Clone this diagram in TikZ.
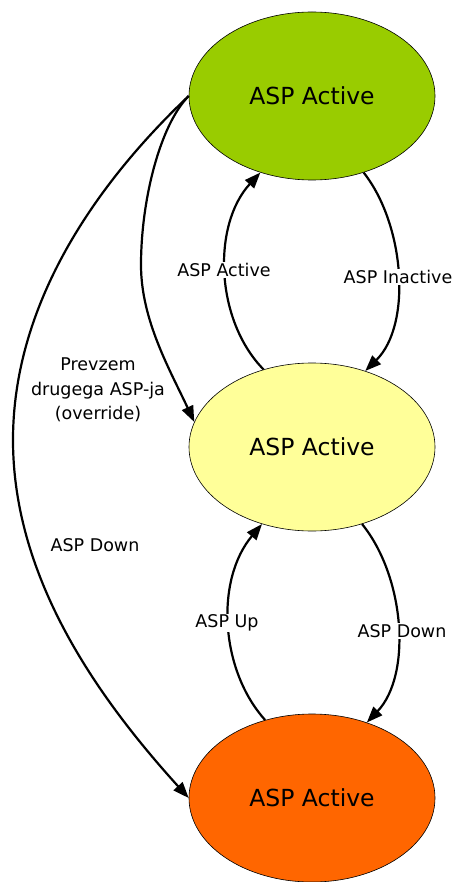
\documentclass[tikz,border=0pt]{standalone}
\usepackage{fontspec}
\setmainfont{DejaVu Sans}
\usetikzlibrary{arrows.meta,shapes.geometric}
\definecolor{aspgreen}{HTML}{99CC00}
\definecolor{aspyellow}{HTML}{FFFF99}
\definecolor{asporange}{HTML}{FF6600}
\begin{document}
\begin{tikzpicture}[x=1pt,y=-1pt,
  state/.style={ellipse, draw=black, line width=0.6pt, minimum width=246pt,
    minimum height=168pt, inner sep=0pt, font=\fontsize{23.5}{28}\selectfont},
  trans/.style={line width=2.2pt, -{Triangle[length=16pt,width=12pt]}},
  lbl/.style={fill=white, inner sep=1pt, align=center,
    font=\fontsize{17.5}{24.5}\selectfont},
  freelbl/.style={lbl, fill=none}]
\useasboundingbox (0,0) rectangle (455,882);

% states
\node[state, fill=aspgreen]  (top) at (312,96)  {ASP Active};
\node[state, fill=aspyellow] (mid) at (312,447) {ASP Active};
\node[state, fill=asporange] (bot) at (312,798) {ASP Active};

% transitions between neighbouring states
\draw[trans] (top.-56) .. controls (405,225) and (412,325) .. (mid.55);
\draw[trans] (mid.122) .. controls (215,320) and (212,225) .. (top.-124);
\draw[trans] (mid.-57) .. controls (405,577) and (412,675) .. (bot.54);
\draw[trans] (bot.121) .. controls (220,670) and (215,580) .. (mid.-123);

% long transitions on the left
\draw[trans] (top.west) .. controls (160,125) and (141,200) .. (141,265)
  .. controls (141,320) and (170,370) .. (mid.168);
\draw[trans] (top.west) .. controls (100,180) and (13,300) .. (13,440)
  .. controls (13,580) and (100,700) .. (bot.west);

% transition labels
\node[lbl] (lInactive) at (398,277) {ASP Inactive};
\node[lbl] (lActive)   at (224,270) {ASP Active};
\node[lbl] (lUp)       at (227,623) {ASP Up};
\node[lbl] (lDownR)    at (402,631) {ASP Down};
\node[freelbl] (lDownL)    at (95,545)  {ASP Down};
\node[freelbl] (lOverride) at (98,390)  {Prevzem\\drugega ASP-ja\\(override)};
\end{tikzpicture}
\end{document}
